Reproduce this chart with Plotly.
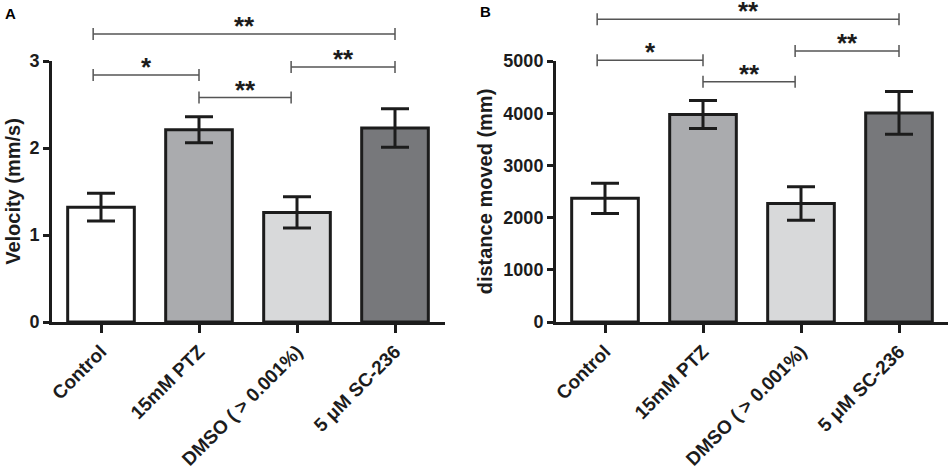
import plotly.graph_objects as go
from plotly.subplots import make_subplots

categories = ["Control", "15mM PTZ", "DMSO ( > 0.001%)", "5 μM SC-236"]
velocity = [1.32, 2.21, 1.26, 2.23]
velocity_err = [0.16, 0.15, 0.18, 0.22]
distance = [2370, 3975, 2270, 4005]
distance_err = [290, 270, 320, 410]
bar_colors = ["#ffffff", "#aaabae", "#d8d9da", "#77787b"]

# significance brackets: (from group, to group, height in data units, label)
velocity_sig = [(0, 3, 3.31, "**"), (0, 1, 2.84, "*"), (1, 2, 2.58, "**"), (2, 3, 2.93, "**")]
distance_sig = [(0, 3, 5800, "**"), (0, 1, 5013, "*"), (1, 2, 4603, "**"), (2, 3, 5192, "**")]

FONT = "Liberation Sans, Arial, sans-serif"
INK = "#1c1c1c"
end_shift = [-0.08, 0.0, -0.06, 0.0]

fig = make_subplots(rows=1, cols=2)

for col, vals, errs in [(1, velocity, velocity_err), (2, distance, distance_err)]:
    fig.add_trace(go.Bar(
        x=categories, y=vals,
        marker=dict(color=bar_colors, line=dict(color=INK, width=3)),
        width=0.68,
        error_y=dict(type="data", array=errs, color=INK, thickness=3, width=14),
        showlegend=False,
    ), row=1, col=col)

axis_common = dict(
    showline=True, linecolor=INK, linewidth=3,
    ticks="outside", tickcolor=INK, tickwidth=2.5,
    showgrid=False, zeroline=False, automargin=False,
)
xfont = dict(family=FONT, size=19, color=INK, weight="bold")
yfont = dict(family=FONT, size=18, color=INK, weight="bold")
tfont = dict(family=FONT, size=20, color=INK, weight="bold")

fig.update_layout(
    width=951, height=467,
    margin=dict(l=52, r=3, t=61, b=145),
    plot_bgcolor="white", paper_bgcolor="white",
    xaxis=dict(domain=[0, 0.4386], range=[-0.5, 3.51], tickangle=-45, ticklen=8,
               tickfont=xfont, **axis_common),
    xaxis2=dict(domain=[0.5625, 1.0], range=[-0.5, 3.5], tickangle=-45, ticklen=8,
                tickfont=xfont, **axis_common),
    yaxis=dict(range=[0, 3.0], tickvals=[0, 1, 2, 3], ticklen=6, tickfont=yfont,
               title=dict(text="Velocity (mm/s)", standoff=4, font=tfont),
               **axis_common),
    yaxis2=dict(range=[0, 5000], tickvals=[0, 1000, 2000, 3000, 4000, 5000], ticklen=6,
                tickfont=yfont,
                title=dict(text="distance moved (mm)", standoff=6, font=tfont),
                **axis_common),
)

for xref, ymax, sigs in [("x", 3.0, velocity_sig), ("x2", 5000, distance_sig)]:
    for i, j, level, label in sigs:
        x0 = i + end_shift[i]
        x1 = j + end_shift[j]
        yp = level / ymax
        fig.add_shape(type="line", xref=xref, yref="paper", x0=x0, x1=x1, y0=yp, y1=yp,
                      line=dict(color="#555555", width=1.5))
        for xe in (x0, x1):
            fig.add_shape(type="line", xref=xref, yref="paper", ysizemode="pixel", yanchor=yp,
                          x0=xe, x1=xe, y0=-6, y1=6, line=dict(color="#555555", width=1.5))
        fig.add_annotation(x=(x0 + x1) / 2, y=yp, xref=xref, yref="paper", text=label,
                           showarrow=False, yanchor="bottom", yshift=-9,
                           font=dict(family=FONT, size=26, color=INK, weight="bold"))

fig.add_annotation(x=-0.055, y=1.222, xref="paper", yref="paper", text="A", showarrow=False,
                   xanchor="left", yanchor="top", font=dict(family=FONT, size=15, color="black", weight="bold"))
fig.add_annotation(x=0.475, y=1.23, xref="paper", yref="paper", text="B", showarrow=False,
                   xanchor="left", yanchor="top", font=dict(family=FONT, size=15, color="black", weight="bold"))

# drop the page's default body margin so the figure fills the window
fig.write_html("out.html", config={"displayModeBar": False},
               post_script="document.body.style.margin='0';")
